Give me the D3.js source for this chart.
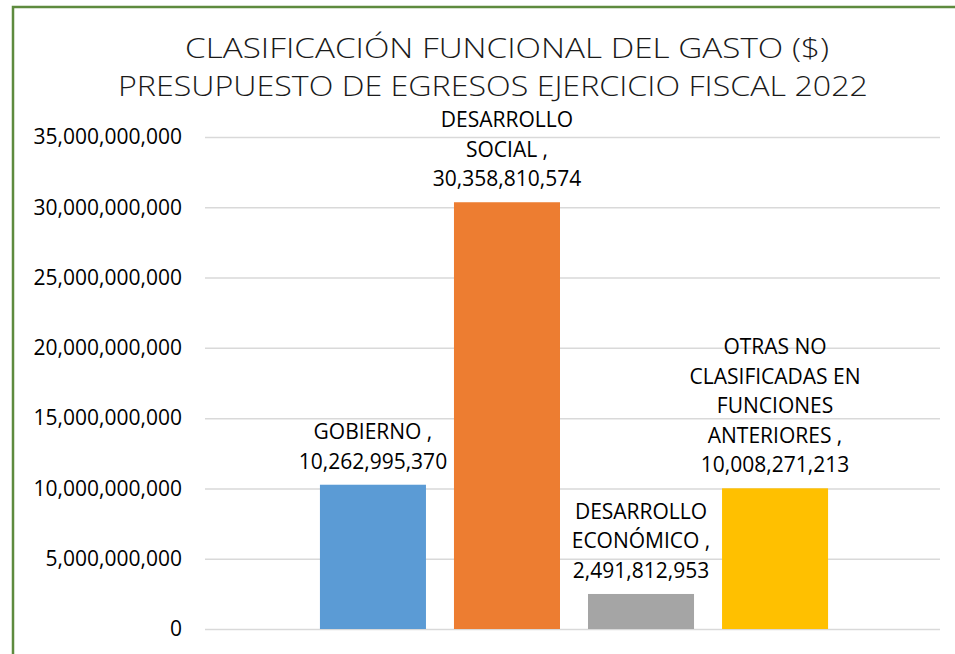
<!DOCTYPE html>
<html>
<head>
<meta charset="utf-8">
<script src="https://cdn.jsdelivr.net/npm/d3@7"></script>
<style>
  body { margin: 0; background: #fff; }
  svg { display: block; }
</style>
</head>
<body>
<div id="chart"></div>
<script>
var seriesNames = ['GOBIERNO', 'DESARROLLO SOCIAL', 'DESARROLLO ECONÓMICO', 'OTRAS NO CLASIFICADAS EN FUNCIONES ANTERIORES']
var seriesValues = [10262995370, 30358810574, 2491812953, 10008271213]
var seriesColors = ['#5B9BD5', '#ED7D31', '#A5A5A5', '#FFC000']
// como Excel parte las etiquetas
var labelLines = [
  ['GOBIERNO ,', '10,262,995,370'],
  ['DESARROLLO', 'SOCIAL ,', '30,358,810,574'],
  ['DESARROLLO', 'ECONÓMICO ,', '2,491,812,953'],
  ['OTRAS NO', 'CLASIFICADAS EN', 'FUNCIONES', 'ANTERIORES ,', '10,008,271,213']
]
var yTicks = [0, 5e9, 10e9, 15e9, 20e9, 25e9, 30e9, 35e9]
var titleLines = ['CLASIFICACIÓN FUNCIONAL DEL GASTO ($)', 'PRESUPUESTO DE EGRESOS EJERCICIO FISCAL 2022']

var W = 955, H = 654
var plot = { left: 205, right: 940, top: 137, bottom: 629 }
var font = "'Open Sans', 'Noto Sans', sans-serif"

var svg = d3.select('#chart').append('svg').attr('width', W).attr('height', H)

// marco verde
svg.append('rect').attr('x', 13).attr('y', 7).attr('width', 1000).attr('height', 800)
  .attr('fill', 'none').attr('stroke', '#5E8B3E').attr('stroke-width', 2.5)

// titulo
svg.selectAll('text.title').data(titleLines).enter().append('text')
  .attr('class', 'title')
  .attr('x', (d, i) => i == 0 ? 185 : 118)
  .attr('y', (d, i) => 58 + i * 38)
  .attr('textLength', (d, i) => i == 0 ? 644 : 750)
  .attr('lengthAdjust', 'spacingAndGlyphs')
  .style('font-family', font).style('font-weight', 300)
  .style('font-size', '27px').style('fill', '#1a1a1a')
  .text(d => d)

var yScale = d3.scaleLinear().domain([0, 35e9]).range([plot.bottom, plot.top])

// un solo grupo con 4 series
var cx = (plot.left + plot.right) / 2 + 1.5
var xScale = d3.scaleBand().domain(seriesNames)
  .range([cx - 268, cx + 268]).paddingInner(0.209).paddingOuter(0.104)

var yAxis = d3.axisLeft(yScale).tickValues(yTicks)
  .tickSize(-(plot.right - plot.left)).tickPadding(23)
  .tickFormat(d3.format(','))
var yAxisG = svg.append('g').attr('id', 'yAxisG')
  .attr('transform', 'translate(' + plot.left + ',0)').call(yAxis)
yAxisG.select('path.domain').remove()
yAxisG.selectAll('line').style('stroke', '#D9D9D9').style('stroke-width', 1.5)
yAxisG.selectAll('text').style('font-family', font).style('font-size', '21px')
  .style('fill', '#000')

var data = seriesNames.map((n, i) => ({ name: n, value: seriesValues[i], color: seriesColors[i], lines: labelLines[i] }))

svg.selectAll('rect.bar').data(data).enter().append('rect')
  .attr('class', 'bar')
  .attr('x', d => xScale(d.name))
  .attr('width', xScale.bandwidth())
  .attr('y', d => yScale(d.value))
  .attr('height', d => yScale(0) - yScale(d.value))
  .attr('fill', d => d.color)

var labels = svg.selectAll('text.lbl').data(data).enter().append('text')
  .attr('class', 'lbl')
  .attr('text-anchor', 'middle')
  .style('font-family', font).style('font-size', '21px').style('fill', '#000')

labels.each(function (d) {
  var n = d.lines.length
  d3.select(this).selectAll('tspan').data(d.lines).enter().append('tspan')
    .attr('x', xScale(d.name) + xScale.bandwidth() / 2)
    .attr('y', (l, j) => yScale(d.value) - 16 - (n - 1 - j) * 29.5)
    .text(l => l)
})
</script>
</body>
</html>
